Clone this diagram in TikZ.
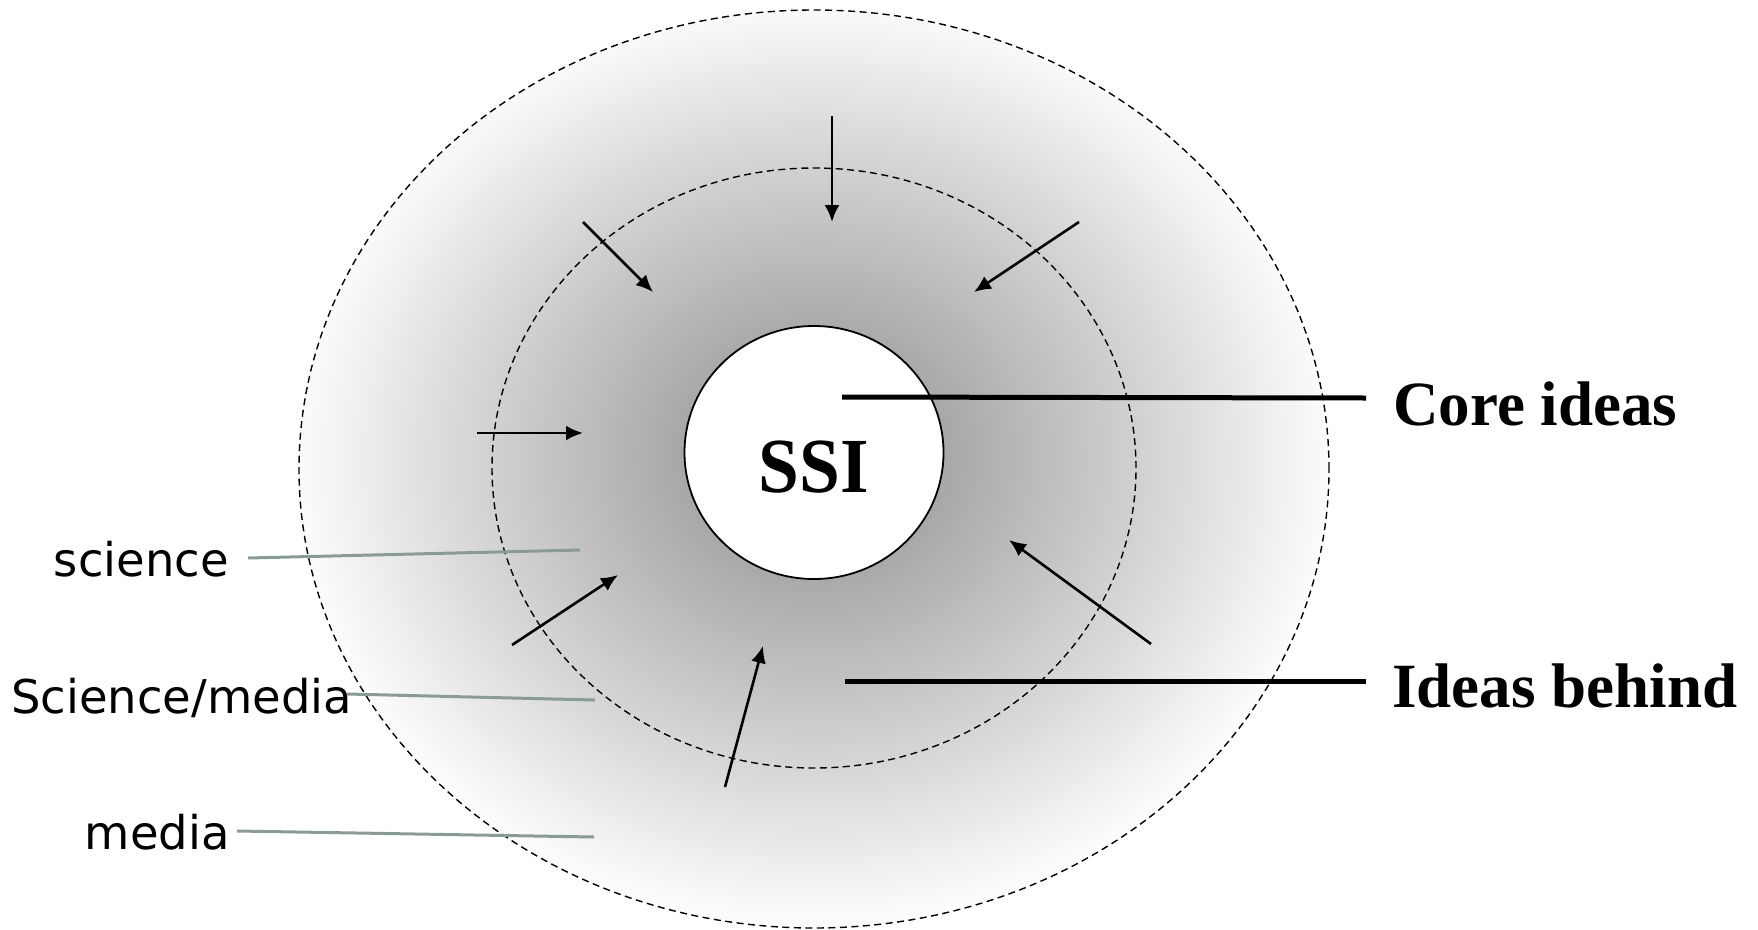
\documentclass[tikz,border=0pt]{standalone}
\usepackage{fontspec}
\usepackage{graphicx}
\setmainfont{Liberation Serif}
\newfontfamily\labelfont{DejaVu Sans}
\usetikzlibrary{shapes.geometric,arrows.meta}
\definecolor{leadgray}{RGB}{138,156,146}
\pgfdeclareradialshading{ringshade}{\pgfpoint{0bp}{0.93bp}}{%
  color(0bp)=(black!36); color(6.5bp)=(black!34); color(15.5bp)=(black!18.5); color(25bp)=(black!1.5); color(50bp)=(black!1.5)}
\begin{document}
\begin{tikzpicture}[x=1pt,y=-1pt,
  ring/.style={ellipse, inner sep=0pt, outer sep=0pt, draw=black, line width=1.4pt, dash pattern=on 7pt off 4.5pt},
  arr/.style={line width=2.6pt, -{Latex[length=17pt,width=15pt]}},
  lead/.style={line width=5pt},
  tag/.style={line width=3pt, draw=leadgray},
  sans/.style={font=\labelfont\fontsize{46.5}{56}\selectfont, inner sep=0pt},
  serifb/.style={font=\bfseries\fontsize{63}{75}\selectfont, inner sep=0pt}]
\useasboundingbox (0,0) rectangle (1758,929);
% rings
\node[ring, minimum width=1030pt, minimum height=918pt, shading=ringshade] (outer) at (814,469) {};
\node[ring, minimum width=644pt, minimum height=600pt] (inner) at (814,468) {};
\node[ellipse, draw=black, line width=1.8pt, fill=white, minimum width=259pt, minimum height=253pt, inner sep=0pt] (ssi) at (814,452.5) {};
\node[anchor=base, inner sep=0pt, font=\bfseries\fontsize{78}{90}\selectfont] (ssitext) at (814,492) {\scalebox{0.94}[1]{SSI}};
% left labels
\node[sans, anchor=base east] (lsci) at (229,576) {science};
\node[sans, anchor=base west] (lscm) at (11,713) {Science/media};
\node[sans, anchor=base east] (lmed) at (230,849) {media};
\coordinate (sciA) at (248,558); \coordinate (sciB) at (580,550);
\coordinate (scmA) at (347,694); \coordinate (scmB) at (595,700);
\coordinate (medA) at (237,831); \coordinate (medB) at (594,837);
\draw[tag] (sciA) -- (sciB);
\draw[tag] (scmA) -- (scmB);
\draw[tag] (medA) -- (medB);
% arrows
\coordinate (tA) at (832,116);   \coordinate (tB) at (832,222);
\coordinate (ulA) at (583,222);  \coordinate (ulB) at (653,292);
\coordinate (urA) at (1079,222); \coordinate (urB) at (974,292);
\coordinate (lA) at (477,433);   \coordinate (lB) at (583,433);
\coordinate (llA) at (512,645);  \coordinate (llB) at (618,575);
\coordinate (bA) at (725,787);   \coordinate (bB) at (763,646);
\coordinate (lrA) at (1151,644); \coordinate (lrB) at (1009,540);
\draw[arr] (tA) -- (tB);
\draw[arr] (ulA) -- (ulB);
\draw[arr] (urA) -- (urB);
\draw[arr] (lA) -- (lB);
\draw[arr] (llA) -- (llB);
\draw[arr] (bA) -- (bB);
\draw[arr] (lrA) -- (lrB);
% right labels
\node[serifb, anchor=base west] (core) at (1393,425) {Core ideas};
\node[serifb, anchor=base west] (behind) at (1392,707) {Ideas behind};
\coordinate (coreA) at (842,397); \coordinate (coreB) at (1366,398);
\coordinate (behA) at (845,681);  \coordinate (behB) at (1366,681);
\draw[lead] (coreA) -- (coreB);
\draw[lead] (behA) -- (behB);
\end{tikzpicture}
\end{document}
